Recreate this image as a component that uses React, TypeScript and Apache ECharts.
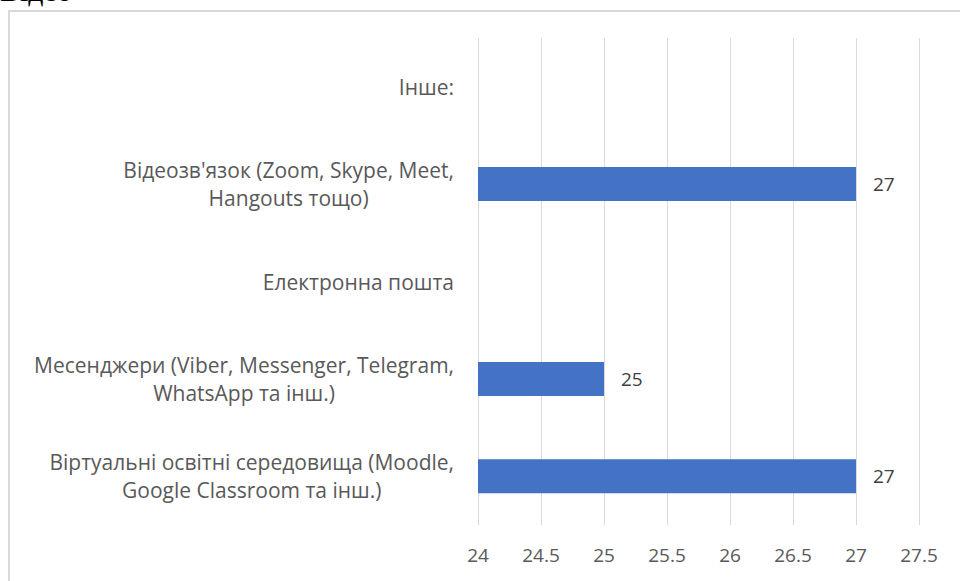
import React, { useEffect, useRef } from "react";
import * as echarts from "echarts";

const categories = [
  "Віртуальні освітні середовища (Moodle,\nGoogle Classroom та інш.)",
  "Месенджери (Viber, Messenger, Telegram,\nWhatsApp та інш.)",
  "Електронна пошта",
  "Відеозв'язок (Zoom, Skype, Meet,\nHangouts тощо)",
  "Інше:",
];
const values: (number | null)[] = [27, 25, null, 27, null];
const xMin = 24;
const xMax = 27.5;
const xStep = 0.5;

export default function App() {
  const ref = useRef<HTMLDivElement>(null);
  useEffect(() => {
    if (!ref.current) return;
    const chart = echarts.init(ref.current, null, { renderer: "svg" });
    const font = "'Open Sans', 'Noto Sans', sans-serif";
    chart.setOption({
      animation: false,
      backgroundColor: "#ffffff",
      graphic: [
        {
          type: "rect",
          shape: { x: 9, y: 11, width: 1000, height: 1000 },
          style: { fill: "none", stroke: "#d9d9d9", lineWidth: 2 },
          silent: true,
        },
        {
          type: "text",
          x: 0,
          y: 5,
          style: {
            text: "Відео",
            font: "30px 'Liberation Serif', 'DejaVu Serif', serif",
            fill: "#000000",
            textVerticalAlign: "bottom",
          },
          silent: true,
        },
      ],
      grid: { left: 478, right: 41, top: 38, bottom: 56, containLabel: false },
      xAxis: {
        type: "value",
        min: xMin,
        max: xMax,
        interval: xStep,
        axisLine: { show: false },
        axisTick: { show: false },
        splitLine: { show: true, lineStyle: { color: "#d9d9d9", width: 1 } },
        axisLabel: {
          color: "#595959",
          fontFamily: font,
          fontSize: 19,
          margin: 20,
          formatter: (v: number) => String(v),
        },
      },
      yAxis: {
        type: "category",
        data: categories,
        axisLine: { show: false },
        axisTick: { show: false },
        splitLine: { show: false },
        axisLabel: {
          margin: 24,
          color: "#595959",
          fontFamily: font,
          fontSize: 21,
          lineHeight: 28,
          formatter: (v: string) =>
            v
              .split("\n")
              .map((l) => "{c|" + l + "}")
              .join("\n"),
          rich: {
            c: {
              align: "center",
              color: "#595959",
              fontFamily: font,
              fontSize: 21,
              lineHeight: 28,
            },
          },
        },
      },
      series: [
        {
          type: "bar",
          data: values,
          barWidth: 34,
          itemStyle: { color: "#4472c4" },
          label: {
            show: true,
            position: "right",
            distance: 17,
            color: "#404040",
            fontFamily: font,
            fontSize: 19,
          },
        },
      ],
    });
    return () => chart.dispose();
  }, []);
  return (
    <div
      ref={ref}
      style={{ position: "fixed", left: 0, top: 0, width: 960, height: 581 }}
    />
  );
}
